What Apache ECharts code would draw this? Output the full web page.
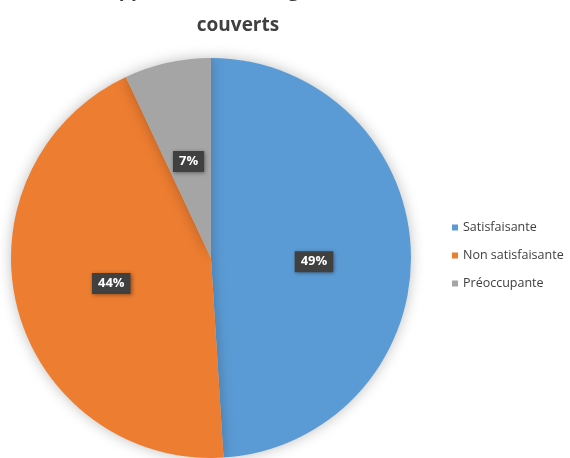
<!DOCTYPE html>
<html><head><meta charset="utf-8">
<script src="https://cdn.jsdelivr.net/npm/echarts@6/dist/echarts.min.js"></script>
<style>html,body{margin:0;padding:0;background:#fff}#c{width:570px;height:458px}</style>
</head><body><div id="c"></div>
<script>
const titleLines = ["Appréciation des logements", "couverts"];
const categories = ["Satisfaisante", "Non satisfaisante", "Préoccupante"];
const values = [49, 44, 7];
const colors = ["#5B9BD5", "#ED7D31", "#A5A5A5"];
const labelNudgeY = [7, 0, 4];

const chart = echarts.init(document.getElementById('c'));
chart.setOption({
  animation: false,
  title: {
    text: titleLines.join("\n"),
    left: 233, top: -32, textAlign: 'center',
    textStyle: {fontFamily: 'Open Sans', fontWeight: 'bold', fontSize: 19, color: '#404040', lineHeight: 35}
  },
  legend: {
    orient: 'vertical', left: 447, top: 216, itemWidth: 6, itemHeight: 6, itemGap: 15,
    icon: 'rect', data: categories,
    textStyle: {fontFamily: 'Open Sans', fontSize: 12.5, color: '#404040'}
  },
  series: [{
    type: 'pie', center: [211, 258], radius: 200, startAngle: 90, clockwise: true,
    data: categories.map((n, i) => ({name: n, value: values[i], itemStyle: {color: colors[i]}})),
    itemStyle: {shadowBlur: 14, shadowColor: 'rgba(0,0,0,0.25)'},
    label: {
      position: 'inside', formatter: p => p.value + '%',
      backgroundColor: '#404040', color: '#fff', fontFamily: 'Open Sans', fontWeight: 'bold', fontSize: 13,
      padding: [4, 6], shadowBlur: 4, shadowColor: 'rgba(0,0,0,0.4)', shadowOffsetX: 1, shadowOffsetY: 1
    },
    labelLayout: p => ({dy: labelNudgeY[p.dataIndex]}),
    labelLine: {show: false},
    emphasis: {disabled: true}
  }]
});
</script></body></html>
